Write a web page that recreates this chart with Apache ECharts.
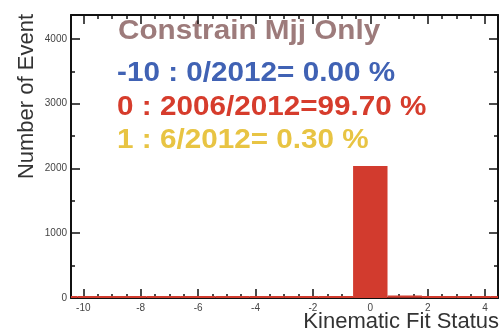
<!DOCTYPE html>
<html>
<head>
<meta charset="utf-8">
<script src="https://cdn.jsdelivr.net/npm/echarts@6/dist/echarts.min.js"></script>
<style>
  html, body { margin: 0; padding: 0; background: #fff; }
  #chart { width: 499px; height: 334px; }
</style>
</head>
<body>
<div id="chart"></div>
<script>
// Histogram of kinematic fit status codes (bins 1.2 wide, centred on the 0 bin)
const binEdges = [-11.4, -10.2, -9.0, -7.8, -6.6, -5.4, -4.2, -3.0, -1.8, -0.6, 0.6, 1.8, 3.0, 4.2, 5.4];
const binCounts = [0, 0, 0, 0, 0, 0, 0, 0, 0, 2006, 6, 0, 0, 0];

// Axis ticks and labels
const xMajorTicks = [-10, -8, -6, -4, -2, 0, 2, 4];
const xMinorTicks = [-10.5, -9.5, -9, -8.5, -7.5, -7, -6.5, -5.5, -5, -4.5, -3.5, -3, -2.5, -1.5, -1, -0.5, 0.5, 1, 1.5, 2.5, 3, 3.5];
const yMajorTicks = [0, 1000, 2000, 3000, 4000];
const yMinorTicks = [500, 1500, 2500, 3500];

// Summary lines
const titleText = 'Constrain Mjj Only';
const summaryLines = [
  '-10 : 0/2012= 0.00 %',
  '0 : 2006/2012=99.70 %',
  '1 : 6/2012= 0.30 %'
];
const xTitle = 'Kinematic Fit Status';
const yTitle = 'Number of Event';

const X_MIN = -10.43, X_MAX = 4.45, Y_MIN = 0, Y_MAX = 4370;
const histRed = '#d23b2e';

const chart = echarts.init(document.getElementById('chart'), null, { renderer: 'canvas' });

const plainNumber = v => String(Math.round(v));

function xAxisDef(pos, ticks, len, showLine, showLabel) {
  return {
    type: 'value', position: pos, min: X_MIN, max: X_MAX,
    splitLine: { show: false },
    axisLine: { show: showLine, onZero: false, lineStyle: { color: '#111', width: 2 } },
    axisTick: { show: true, inside: true, length: len, customValues: ticks, lineStyle: { color: '#111', width: 1.5 } },
    axisLabel: showLabel ? { show: true, customValues: ticks, formatter: plainNumber, fontSize: 10, color: '#444', margin: 5, fontFamily: 'Liberation Sans' } : { show: false }
  };
}
function yAxisDef(pos, ticks, len, showLine, showLabel) {
  return {
    type: 'value', position: pos, min: Y_MIN, max: Y_MAX,
    splitLine: { show: false },
    axisLine: { show: showLine, onZero: false, lineStyle: { color: '#111', width: 2 } },
    axisTick: { show: true, inside: true, length: len, customValues: ticks, lineStyle: { color: '#111', width: 1.5 } },
    axisLabel: showLabel ? { show: true, customValues: ticks, formatter: plainNumber, fontSize: 10, color: '#444', margin: 4, fontFamily: 'Liberation Sans' } : { show: false }
  };
}

const binData = binCounts.map((c, i) => [binEdges[i], binEdges[i + 1], c]);

const summaryColors = ['#4062b4', '#d63c2c', '#e8c443'];
const summaryY = [73, 107, 140];

const graphics = [
  {
    type: 'text', x: 118, y: 31, scaleX: 1.06,
    style: { text: titleText, fill: '#9d7b7b', font: 'bold 28px "Liberation Sans"', textAlign: 'left', textVerticalAlign: 'middle' }
  },
  {
    type: 'text', x: 27, y: 14, rotation: Math.PI / 2,
    style: { text: yTitle, fill: '#333', font: '22px "Liberation Sans"', textAlign: 'right', textVerticalAlign: 'middle' }
  },
  {
    type: 'text', x: 499, y: 322,
    style: { text: xTitle, fill: '#333', font: '22px "Liberation Sans"', textAlign: 'right', textVerticalAlign: 'middle' }
  }
];
summaryLines.forEach((t, i) => {
  graphics.push({
    type: 'text', x: 117, y: summaryY[i], scaleX: 1.06,
    style: { text: t, fill: summaryColors[i], font: 'bold 28px "Liberation Sans"', textAlign: 'left', textVerticalAlign: 'middle' }
  });
});

chart.setOption({
  animation: false,
  backgroundColor: '#fff',
  grid: { left: 71, right: 1, top: 15, bottom: 36 },
  xAxis: [
    xAxisDef('bottom', xMajorTicks, 9, true, true),
    xAxisDef('bottom', xMinorTicks, 4, false, false),
    xAxisDef('top', xMajorTicks, 9, true, false),
    xAxisDef('top', xMinorTicks, 4, false, false)
  ],
  yAxis: [
    yAxisDef('left', yMajorTicks, 9, true, true),
    yAxisDef('left', yMinorTicks, 4, false, false),
    yAxisDef('right', yMajorTicks, 9, true, false),
    yAxisDef('right', yMinorTicks, 4, false, false)
  ],
  series: [{
    type: 'custom',
    xAxisIndex: 0, yAxisIndex: 0,
    clip: true,
    data: binData,
    renderItem: function (params, api) {
      const lo = api.value(0), hi = api.value(1), n = api.value(2);
      const p0 = api.coord([lo, 0]);
      const p1 = api.coord([hi, n]);
      const children = [];
      if (n > 0) {
        children.push({
          type: 'rect',
          shape: { x: p0[0], y: p1[1], width: p1[0] - p0[0], height: p0[1] - p1[1] },
          style: { fill: histRed }
        });
      }
      // bin outline along its content level
      children.push({
        type: 'line',
        shape: { x1: p0[0], y1: p1[1] - 1, x2: p1[0], y2: p1[1] - 1 },
        style: { stroke: histRed, lineWidth: 2 }
      });
      return { type: 'group', children: children };
    }
  }],
  graphic: graphics
});
</script>
</body>
</html>
